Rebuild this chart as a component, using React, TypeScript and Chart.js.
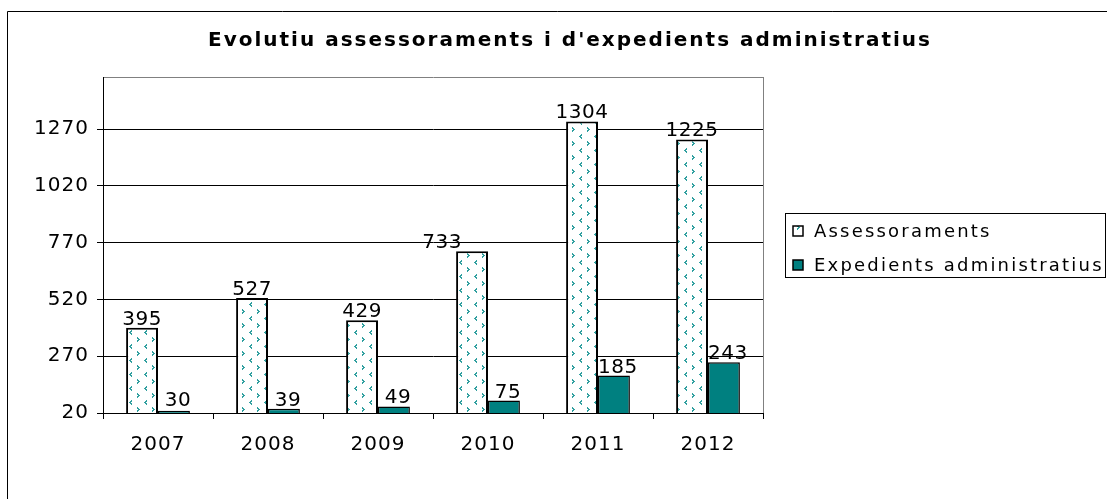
import React, { useEffect, useRef } from 'react';
import { Chart, registerables } from 'chart.js';

Chart.register(...registerables);

const categories = ['2007', '2008', '2009', '2010', '2011', '2012'];
const assessoraments = [395, 527, 429, 733, 1304, 1225];
const expedients = [30, 39, 49, 75, 185, 243];
const yTickValues = [20, 270, 520, 770, 1020, 1270];
const yMin = 20;
const yMax = 1500;
const seriesNames = ['Assessoraments', 'Expedients administratius'];
const titleText = "Evolutiu assessoraments i d'expedients administratius";

const FONT = "'DejaVu Sans', Verdana, sans-serif";
const TEAL = '#008080';

function makePattern(): CanvasPattern | string {
  const c = document.createElement('canvas');
  c.width = 15;
  c.height = 14;
  const g = c.getContext('2d');
  if (!g) return '#ffffff';
  g.fillStyle = '#ffffff';
  g.fillRect(0, 0, 15, 14);
  g.fillStyle = '#2f9f9f';
  const right = (x: number, y: number) => {
    g.fillRect(x, y, 1, 1);
    g.fillRect(x, y + 1, 2, 1);
    g.fillRect(x + 1, y + 2, 2, 1);
    g.fillRect(x, y + 3, 2, 1);
    g.fillRect(x, y + 4, 1, 1);
  };
  const left = (x: number, y: number) => {
    g.fillRect(x + 2, y, 1, 1);
    g.fillRect(x + 1, y + 1, 2, 1);
    g.fillRect(x, y + 2, 2, 1);
    g.fillRect(x + 1, y + 3, 2, 1);
    g.fillRect(x + 2, y + 4, 1, 1);
  };
  right(2, 1);
  left(9, 8);
  const p = g.createPattern(c, 'repeat');
  return p || '#ffffff';
}

export default function App() {
  const ref = useRef<HTMLCanvasElement | null>(null);

  useEffect(() => {
    const canvas = ref.current;
    if (!canvas) return;
    const pattern = makePattern();

    const decor = {
      id: 'decor',
      beforeDraw(chart: any) {
        const ctx = chart.ctx;
        ctx.letterSpacing = '1px';
      },
      afterDraw(chart: any) {
        const ctx = chart.ctx;
        const area = chart.chartArea;
        ctx.save();
        // outer frame (top and left visible)
        ctx.strokeStyle = '#000000';
        ctx.lineWidth = 1;
        ctx.beginPath();
        ctx.moveTo(7.5, 499);
        ctx.lineTo(7.5, 11.5);
        ctx.lineTo(1107, 11.5);
        ctx.stroke();
        // plot area right border
        ctx.strokeStyle = '#808080';
        ctx.beginPath();
        ctx.moveTo(Math.round(area.right) + 0.5, area.top);
        ctx.lineTo(Math.round(area.right) + 0.5, area.bottom);
        ctx.stroke();
        // title
        ctx.letterSpacing = '2px';
        ctx.fillStyle = '#000000';
        ctx.font = `bold 20px ${FONT}`;
        ctx.textAlign = 'center';
        ctx.textBaseline = 'middle';
        ctx.fillText(titleText, 570, 41);
        // legend
        ctx.strokeStyle = '#000000';
        ctx.lineWidth = 1;
        ctx.strokeRect(785.5, 213.5, 320, 64);
        const fills = [pattern, TEAL];
        const ys = [231, 265];
        ctx.font = `18px ${FONT}`;
        ctx.letterSpacing = '2.2px';
        ctx.textAlign = 'left';
        for (let i = 0; i < 2; i++) {
          ctx.fillStyle = fills[i] as any;
          ctx.fillRect(793, ys[i] - 5, 10, 10);
          ctx.lineWidth = 1.5;
          ctx.strokeRect(793, ys[i] - 5, 10, 10);
          ctx.fillStyle = '#000000';
          ctx.fillText(seriesNames[i], 814, ys[i] + 1);
        }
        ctx.restore();
      },
      afterDatasetsDraw(chart: any, _args: any, opts: any) {
        const ctx = chart.ctx;
        ctx.save();
        ctx.font = `20px ${FONT}`;
        ctx.letterSpacing = '0.5px';
        ctx.fillStyle = '#000000';
        ctx.textAlign = 'center';
        ctx.textBaseline = 'alphabetic';
        const offsets = opts.offsets || {};
        chart.data.datasets.forEach((ds: any, di: number) => {
          const meta = chart.getDatasetMeta(di);
          meta.data.forEach((el: any, i: number) => {
            const dx = offsets[`${di}-${i}`] || 0;
            const y = Math.min(el.y - 3, el.base - 12);
            ctx.fillText(String(ds.data[i]), el.x + dx + (di === 1 ? 4 : 0), y);
          });
        });
        ctx.restore();
      },
    };

    const chart = new Chart(canvas, {
      type: 'bar',
      data: {
        labels: categories,
        datasets: [
          {
            label: seriesNames[0],
            data: assessoraments,
            backgroundColor: pattern as any,
            borderColor: '#000000',
            borderWidth: 2,
            borderSkipped: false,
          },
          {
            label: seriesNames[1],
            data: expedients,
            backgroundColor: TEAL,
            borderColor: '#000000',
            borderWidth: 1.5,
            borderSkipped: false,
          },
        ],
      },
      options: {
        animation: false,
        responsive: false,
        devicePixelRatio: 1,
        layout: { padding: { left: 0, top: 77, right: 344, bottom: 0 } },
        datasets: { bar: { categoryPercentage: 0.58, barPercentage: 1 } },
        plugins: {
          legend: { display: false },
          title: { display: false },
          tooltip: { enabled: false },
          decor: { offsets: { '0-3': -30 } },
        } as any,
        scales: {
          x: {
            grid: {
              display: true,
              offset: true,
              drawOnChartArea: false,
              color: '#000000',
              tickLength: 6,
            },
            border: { color: '#000000', width: 1 },
            ticks: { color: '#000000', font: { family: FONT, size: 20 }, padding: 14 },
            afterFit(scale: any) {
              scale.height = 86;
            },
          },
          y: {
            min: yMin,
            max: yMax,
            afterBuildTicks(scale: any) {
              scale.ticks = [...yTickValues, yMax].map((v) => ({ value: v }));
            },
            grid: {
              color: (c: any) => (c.tick && c.tick.value === yMax ? '#808080' : '#000000'),
              tickColor: (c: any) => (c.tick && c.tick.value === yMax ? 'rgba(0,0,0,0)' : '#000000'),
              tickLength: 6,
              lineWidth: 1,
            },
            border: { color: '#000000', width: 1 },
            ticks: {
              color: '#000000',
              font: { family: FONT, size: 20 },
              padding: 8,
              callback: (v: any) => (v === yMax ? '' : String(v)),
            },
            afterFit(scale: any) {
              scale.width = 103;
            },
          },
        },
      },
      plugins: [decor],
    });

    return () => chart.destroy();
  }, []);

  return (
    <div style={{ position: 'fixed', left: 0, top: 0, width: 1107, height: 499, background: '#ffffff' }}>
      <canvas ref={ref} width={1107} height={499} style={{ display: 'block' }} />
    </div>
  );
}
